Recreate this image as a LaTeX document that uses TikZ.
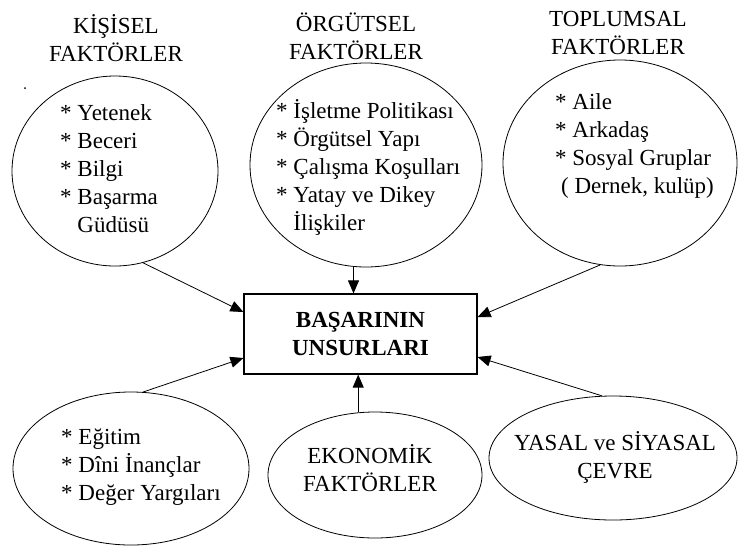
\documentclass[tikz,border=0pt]{standalone}
\usepackage{fontspec}
\setmainfont{Liberation Serif}
\usetikzlibrary{shapes.geometric,arrows.meta}

\begin{document}
\begin{tikzpicture}[x=1pt,y=-1pt,
  oval/.style={draw,ellipse,line width=.8pt,inner sep=0pt},
  yazi/.style={inner sep=0pt,font=\fontsize{23}{28}\selectfont},
  liste/.style={yazi,align=left,anchor=west},
  baslik/.style={yazi,align=center},
  ok/.style={-{Triangle[length=13pt,width=11pt]},line width=.8pt}]
\useasboundingbox (0,0) rectangle (739,547);
% ust sira
\node[baslik](kisB)at(116,38){KİŞİSEL\\FAKTÖRLER};
\node[baslik](orgB)at(356,36){ÖRGÜTSEL\\FAKTÖRLER};
\node[baslik](topB)at(618,33){TOPLUMSAL\\FAKTÖRLER};
\node[oval,minimum width=206pt,minimum height=190pt](kis)at(115,171){};
\node[oval,minimum width=232pt,minimum height=204pt](org)at(366,165){};
\node[oval,minimum width=234pt,minimum height=206pt](top)at(620,163){};
\node[liste](kisL)at(60,168.5){* Yetenek\\* Beceri\\* Bilgi\\* Başarma\\\phantom{* }Güdüsü};
\node[liste](orgL)at(276,167){* İşletme Politikası\\* Örgütsel Yapı\\* Çalışma Koşulları\\* Yatay ve Dikey\\\phantom{* }İlişkiler};
\node[liste](topL)at(555,146){* Aile\\* Arkadaş\\* Sosyal Gruplar\\\hspace{6pt}( Dernek, kulüp)};
\fill (25,88) circle (1);
% merkez
\node[draw,line width=1.2pt,minimum width=233pt,minimum height=80pt,
  yazi,font=\fontsize{23}{28}\selectfont\bfseries,align=center](bas)at(360.5,334){BAŞARININ\\UNSURLARI};
% alt sira
\node[oval,minimum width=236pt,minimum height=153pt](egi)at(131,468.5){};
\node[oval,minimum width=214pt,minimum height=126pt](eko)at(375,475){};
\node[oval,minimum width=248pt,minimum height=124pt](yas)at(613,458){};
\node[liste](egiL)at(61,467.5){* Eğitim\\* Dîni İnançlar\\* Değer Yargıları};
\node[baslik](ekoL)at(370,468){EKONOMİK\\FAKTÖRLER};
\node[baslik](yasL)at(615,457){YASAL ve SİYASAL\\ÇEVRE};
% oklar
\draw[ok] (kis.-73) -- ([yshift=22pt]bas.west);
\draw[ok] (org.-97) -- (org.-97 |- bas.north);
\draw[ok] (top.-101) -- ([yshift=17pt]bas.east);
\draw[ok] (egi.81) -- ([yshift=-24pt]bas.west);
\draw[ok] (eko.105) -- (eko.105 |- bas.south);
\draw[ok] (yas.100) -- ([yshift=-23pt]bas.east);
\end{tikzpicture}
\end{document}
